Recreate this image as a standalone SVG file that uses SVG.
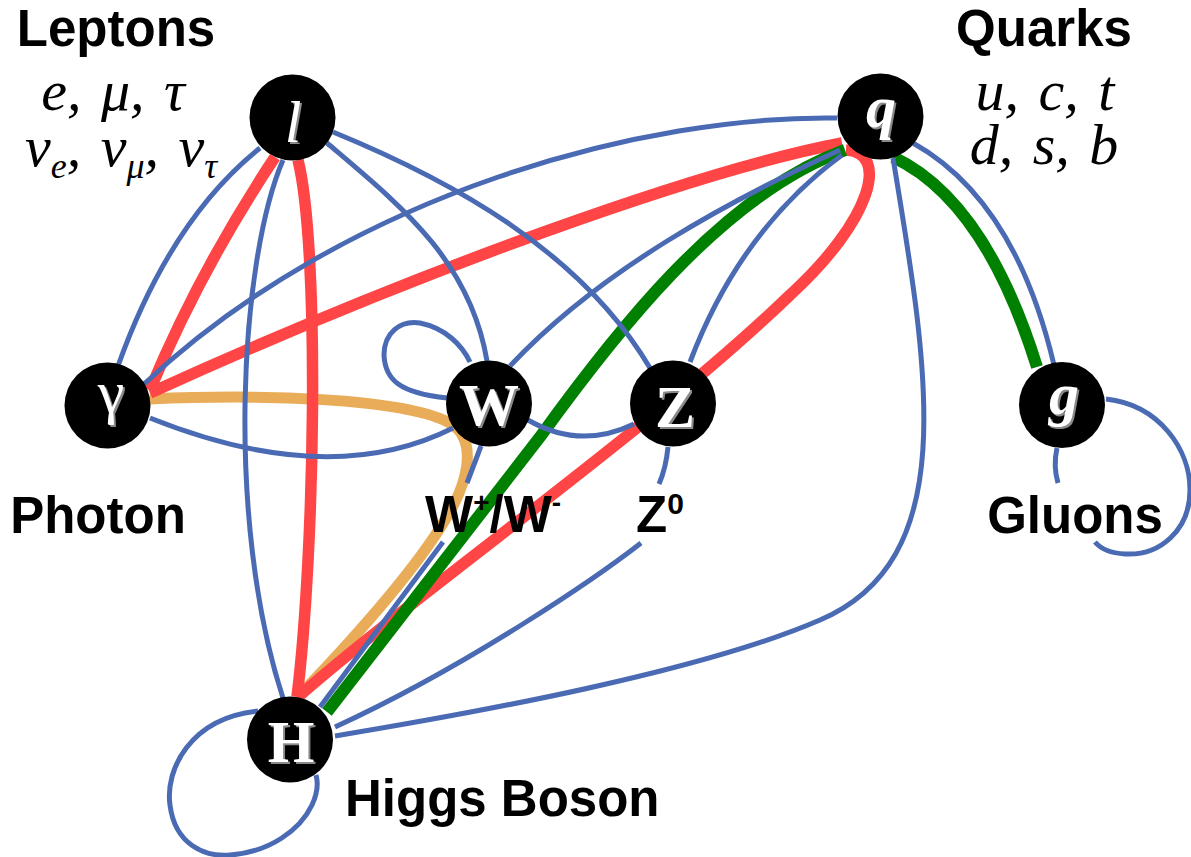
<svg xmlns="http://www.w3.org/2000/svg" width="1191" height="857" viewBox="0 0 1191 857">
<style>
.b{fill:none;stroke:#4a6bb3;stroke-width:5;stroke-linecap:butt}
.r{fill:none;stroke:#ff4545;stroke-width:11.5}
.gr{fill:none;stroke:#008000;stroke-width:12}
.o{fill:none;stroke:#e9ad5a;stroke-width:11}
.node{fill:#000}
.lab{font-family:"Liberation Sans",Arial,sans-serif;font-weight:bold;font-size:51px;fill:#000}
.math{font-family:"Liberation Serif","Times New Roman",serif;font-style:italic;font-size:58px;fill:#000;word-spacing:5px}
.nl{font-family:"Liberation Serif","Times New Roman",serif;font-size:60px;text-anchor:middle}
.sh{fill:#8a8a8a}
.wt{fill:#fff}
</style>
<rect width="1191" height="857" fill="#fff"/>
<g id="connectors">
  <path class="o" d="M150,399 C260,394 400,398 448,422 C478,437 470,480 445,520 C412,575 345,648 298,697"/>
  <path class="r" d="M275,157 Q200,270 150,390"/>
  <path class="r" d="M298,160 C320,250 315,550 297,697"/>
  <path class="r" d="M842,143 C700,170 420,270 150,393"/>
  <path class="r" d="M846,150 C890,152 872,220 790,295 C650,430 420,590 298,697"/>
  <path class="gr" d="M845,150 C720,195 610,340 540,437 L327,712"/>
  <path class="gr" d="M893,157 Q985,200 1037,367"/>
  <path class="b" d="M260,148 Q170,220 118,366"/>
  <path class="b" d="M283,160 C240,260 225,520 283,698"/>
  <path class="b" d="M327,143 C400,205 470,260 487,361"/>
  <path class="b" d="M333,132 C450,180 580,250 650,368"/>
  <path class="b" d="M837,118 C650,115 350,190 143,385"/>
  <path class="b" d="M840,150 C730,200 600,270 510,366"/>
  <path class="b" d="M842,155 Q740,230 690,362"/>
  <path class="b" d="M893,158 C930,380 960,560 820,620 C700,672 480,712 335,736"/>
  <path class="b" d="M913,143 Q1015,200 1054,365"/>
  <path class="b" d="M150,418 Q330,490 453,428"/>
  <path class="b" d="M528,420 Q580,450 634,424"/>
  <path class="b" d="M447,398 C400,393 385,380 384,355 C384,333 400,320 420,323 C445,328 462,345 470,362"/>
  <path class="b" d="M481,446 L467,483"/>
  <path class="b" d="M443,542 L320,707"/>
  <path class="b" d="M668,447 Q666,468 659,484"/>
  <path class="b" d="M641,543 C600,575 470,665 335,727"/>
  <path class="b" d="M1106,399 C1160,405 1190,450 1190,490 C1190,530 1160,556 1125,554 C1110,553 1100,548 1095,542"/>
  <path class="b" d="M1057,448 Q1053,466 1058,483"/>
  <path class="b" d="M258,711 C190,718 165,770 170,805 C175,845 205,857 230,855 C270,852 300,830 312,805 C318,792 318,782 316,775"/>
</g>
<g id="node-l">
  <circle class="node" cx="292.5" cy="117.5" r="43"/>
  <text class="nl sh" x="295" y="144" font-style="italic" font-size="64">l</text>
  <text class="nl wt" x="293" y="142" font-style="italic" font-size="64">l</text>
</g>
<g id="node-q">
  <circle class="node" cx="880.5" cy="116.5" r="43"/>
  <text class="nl sh" x="883" y="129" font-style="italic" font-weight="bold">q</text>
  <text class="nl wt" x="881" y="127" font-style="italic" font-weight="bold">q</text>
</g>
<g id="node-photon">
  <circle class="node" cx="107.5" cy="405.5" r="43"/>
  <text class="nl sh" x="113" y="414" font-size="66">γ</text>
  <text class="nl wt" x="111" y="412" font-size="66">γ</text>
</g>
<g id="node-W">
  <circle class="node" cx="489" cy="403.5" r="43"/>
  <text class="nl sh" x="491" y="427" font-weight="bold">W</text>
  <text class="nl wt" x="489" y="425" font-weight="bold">W</text>
</g>
<g id="node-Z">
  <circle class="node" cx="673" cy="403.5" r="43"/>
  <text class="nl sh" x="677" y="429" font-weight="bold">Z</text>
  <text class="nl wt" x="675" y="427" font-weight="bold">Z</text>
</g>
<g id="node-g">
  <circle class="node" cx="1062" cy="405" r="43"/>
  <text class="nl sh" x="1066" y="416" font-style="italic" font-weight="bold" font-size="63">g</text>
  <text class="nl wt" x="1064" y="414" font-style="italic" font-weight="bold" font-size="63">g</text>
</g>
<g id="node-H">
  <circle class="node" cx="290" cy="739.5" r="43"/>
  <text class="nl sh" x="293" y="764" font-weight="bold">H</text>
  <text class="nl wt" x="291" y="762" font-weight="bold">H</text>
</g>
<g id="labels">
  <text class="lab" x="116" y="46" text-anchor="middle">Leptons</text>
  <text class="math" x="113" y="110" text-anchor="middle">e, μ, τ</text>
  <text class="math" x="25" y="166">ν<tspan font-size="36" dy="12">e</tspan><tspan dy="-12">, ν</tspan><tspan font-size="36" dy="12">μ</tspan><tspan dy="-12">, ν</tspan><tspan font-size="36" dy="12">τ</tspan></text>
  <text class="lab" x="1044" y="46" text-anchor="middle">Quarks</text>
  <text class="math" x="1045" y="110" text-anchor="middle">u, c, t</text>
  <text class="math" x="1044" y="164" text-anchor="middle">d, s, b</text>
  <text class="lab" x="98" y="533" text-anchor="middle">Photon</text>
  <text class="lab" x="425" y="532" font-size="48">W<tspan font-size="28" dy="-20">+</tspan><tspan dy="20">/W</tspan><tspan font-size="28" dy="-20">-</tspan></text>
  <text class="lab" x="636" y="532" font-size="48">Z<tspan font-size="30" dy="-18">0</tspan></text>
  <text class="lab" x="1075" y="533" text-anchor="middle">Gluons</text>
  <text class="lab" x="345" y="816">Higgs Boson</text>
</g>
</svg>
